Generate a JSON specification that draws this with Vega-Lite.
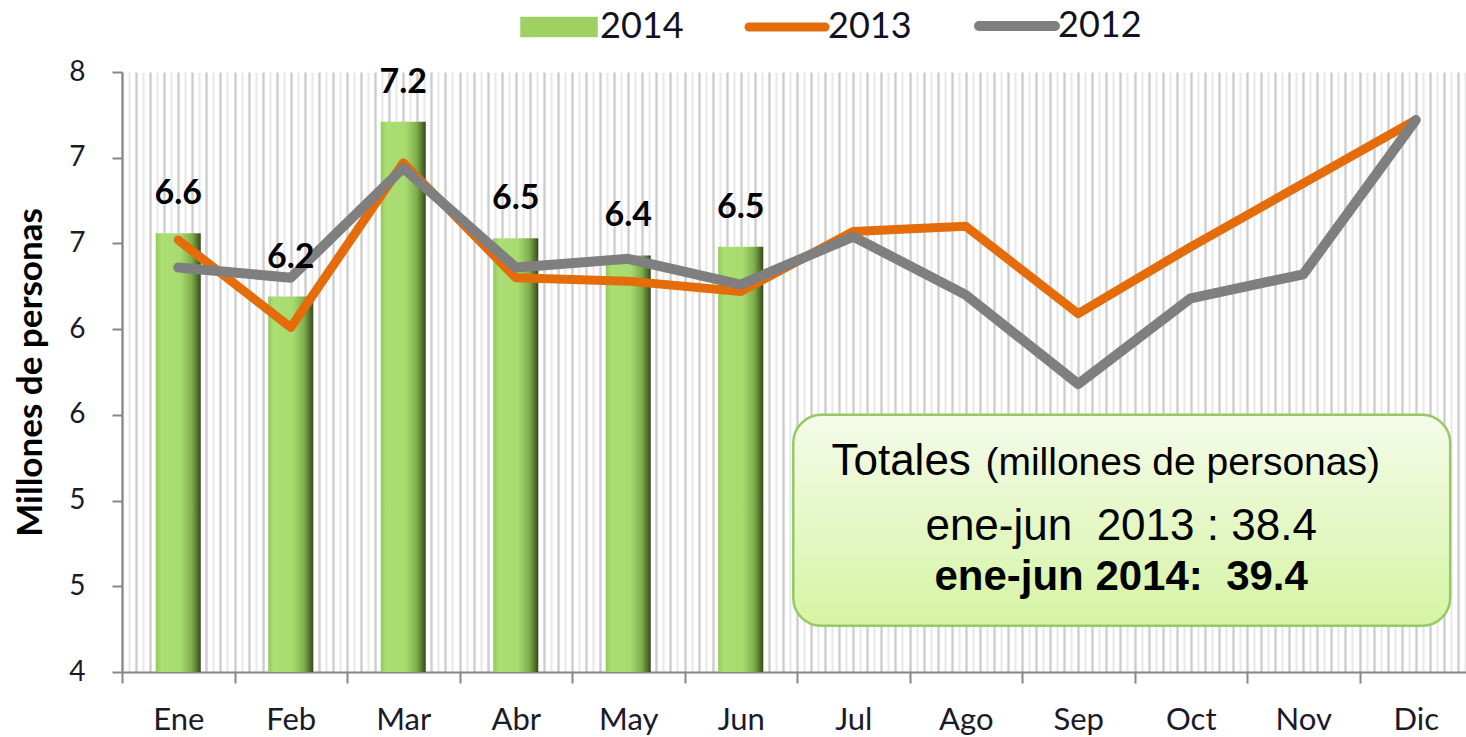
{
  "$schema": "https://vega.github.io/schema/vega-lite/v6.json",
  "width": 1350,
  "height": 600,
  "autosize": "none",
  "padding": {"left": 122, "top": 72, "right": 0, "bottom": 65},
  "background": "white",
  "config": {"view": {"stroke": null}, "font": "Lato"},
  "data": {
    "values": [
      {"mes": "Ene", "serie": "2014", "valor": 6.56},
      {"mes": "Feb", "serie": "2014", "valor": 6.19},
      {"mes": "Mar", "serie": "2014", "valor": 7.21},
      {"mes": "Abr", "serie": "2014", "valor": 6.53},
      {"mes": "May", "serie": "2014", "valor": 6.43},
      {"mes": "Jun", "serie": "2014", "valor": 6.48},
      {"mes": "Ene", "serie": "2013", "valor": 6.52},
      {"mes": "Feb", "serie": "2013", "valor": 6.01},
      {"mes": "Mar", "serie": "2013", "valor": 6.97},
      {"mes": "Abr", "serie": "2013", "valor": 6.3},
      {"mes": "May", "serie": "2013", "valor": 6.28},
      {"mes": "Jun", "serie": "2013", "valor": 6.22},
      {"mes": "Jul", "serie": "2013", "valor": 6.57},
      {"mes": "Ago", "serie": "2013", "valor": 6.6},
      {"mes": "Sep", "serie": "2013", "valor": 6.09},
      {"mes": "Oct", "serie": "2013", "valor": 6.48},
      {"mes": "Nov", "serie": "2013", "valor": 6.85},
      {"mes": "Dic", "serie": "2013", "valor": 7.22},
      {"mes": "Ene", "serie": "2012", "valor": 6.36},
      {"mes": "Feb", "serie": "2012", "valor": 6.3},
      {"mes": "Mar", "serie": "2012", "valor": 6.94},
      {"mes": "Abr", "serie": "2012", "valor": 6.36},
      {"mes": "May", "serie": "2012", "valor": 6.41},
      {"mes": "Jun", "serie": "2012", "valor": 6.26},
      {"mes": "Jul", "serie": "2012", "valor": 6.54},
      {"mes": "Ago", "serie": "2012", "valor": 6.2},
      {"mes": "Sep", "serie": "2012", "valor": 5.68},
      {"mes": "Oct", "serie": "2012", "valor": 6.18},
      {"mes": "Nov", "serie": "2012", "valor": 6.32},
      {"mes": "Dic", "serie": "2012", "valor": 7.22}
    ]
  },
  "resolve": {"scale": {"x": "independent"}, "axis": {"x": "independent"}},
  "layer": [
    {
      "encoding": {
        "x": {
          "field": "mes",
          "type": "nominal",
          "sort": ["Ene","Feb","Mar","Abr","May","Jun","Jul","Ago","Sep","Oct","Nov","Dic"],
          "scale": {"domain": ["Ene","Feb","Mar","Abr","May","Jun","Jul","Ago","Sep","Oct","Nov","Dic"], "paddingInner": 0, "paddingOuter": 0},
          "axis": {
            "title": null,
            "labelAngle": 0,
            "tickBand": "extent",
            "labelFont": "Lato",
            "labelFontSize": 31,
            "labelColor": "#1a1a2a",
            "labelPadding": 22,
            "tickSize": 11,
            "tickColor": "#868686",
            "tickWidth": 2,
            "domainColor": "#868686",
            "domainWidth": 2,
            "grid": false
          }
        },
        "y": {
          "field": "valor",
          "type": "quantitative",
          "scale": {"domain": [4, 7.5], "nice": false, "zero": false, "clamp": true},
          "axis": {
            "values": [4, 4.5, 5, 5.5, 6, 6.5, 7, 7.5],
            "format": ".0f",
            "title": "Millones  de personas",
            "titleFont": "Lato",
            "titleFontSize": 35,
            "titleFontWeight": "bold",
            "titleColor": "#000000",
            "titlePadding": 20,
            "labelFont": "Lato",
            "labelFontSize": 28,
            "labelColor": "#1a1a2a",
            "labelPadding": 27,
            "tickSize": 10,
            "tickColor": "#868686",
            "tickWidth": 2,
            "domainColor": "#868686",
            "domainWidth": 2,
            "grid": false
          }
        }
      },
      "layer": [
        {
          "transform": [{"filter": "datum.serie === '2014'"}],
          "mark": {
            "type": "bar",
            "width": {"band": 0.4},
            "fill": {
              "gradient": "linear",
              "x1": 0, "y1": 0, "x2": 1, "y2": 0,
              "stops": [
                {"offset": 0, "color": "#92c85a"},
                {"offset": 0.12, "color": "#abdf74"},
                {"offset": 0.55, "color": "#a7db70"},
                {"offset": 0.8, "color": "#7fae4a"},
                {"offset": 0.93, "color": "#506f2c"},
                {"offset": 1, "color": "#34481c"}
              ]
            }
          }
        },
        {
          "transform": [{"filter": "datum.serie === '2013'"}],
          "mark": {"type": "line", "strokeWidth": 9, "strokeCap": "round", "strokeJoin": "round"},
          "encoding": {
            "color": {
              "field": "serie",
              "type": "nominal",
              "scale": {"domain": ["2014", "2013", "2012"], "range": ["#9fd160", "#e46c0a", "#7f7f7f"]},
              "legend": {
                "orient": "none",
                "legendX": 400,
                "legendY": -64,
                "direction": "horizontal",
                "title": null,
                "padding": 0,
                "labelFont": "Lato",
                "labelFontSize": 36,
                "labelColor": "#111122",
                "labelOffset": 23,
                "symbolOffset": 19,
                "columnPadding": 47,
                "symbolSize": 5776,
                "symbolType": "stroke",
                "symbolStrokeWidth": 9,
                "encode": {
                  "symbols": {
                    "update": {
                      "shape": {"signal": "datum.value === '2014' ? 'M-1,-0.25H1V0.25H-1Z' : 'stroke'"},
                      "fill": {"signal": "datum.value === '2014' ? '#9fd160' : 'transparent'"},
                      "stroke": {"signal": "datum.value === '2014' ? '#4d6e2a' : (datum.value === '2013' ? '#e46c0a' : '#7f7f7f')"},
                      "strokeWidth": {"signal": "datum.value === '2014' ? 1.5 : (datum.value === '2013' ? 9 : 10)"},
                      "strokeCap": {"value": "round"},
                      "opacity": {"value": 1}
                    }
                  }
                }
              }
            }
          }
        },
        {
          "transform": [{"filter": "datum.serie === '2012'"}],
          "mark": {"type": "line", "strokeWidth": 10, "strokeCap": "round", "strokeJoin": "round"},
          "encoding": {
            "color": {"field": "serie", "type": "nominal"}
          }
        },
        {
          "transform": [{"filter": "datum.serie === '2014'"}],
          "mark": {"type": "text", "font": "Lato", "fontSize": 34, "fontWeight": "bold", "color": "#000000", "baseline": "alphabetic", "dy": -29},
          "encoding": {"text": {"field": "valor", "type": "quantitative", "format": ".1f"}}
        }
      ]
    },
    {
      "data": {"values": [{}]},
      "layer": [
        {
          "mark": {
            "type": "rect",
            "cornerRadius": 28,
            "stroke": "#97c866",
            "strokeWidth": 2.5,
            "fill": {
              "gradient": "linear",
              "x1": 0, "y1": 0, "x2": 0, "y2": 1,
              "stops": [
                {"offset": 0, "color": "#f4fbea"},
                {"offset": 1, "color": "#d6f4a4"}
              ]
            }
          },
          "encoding": {
            "x": {
              "datum": 95.47,
              "type": "quantitative",
              "scale": {"domain": [0, 192], "nice": false, "zero": false},
              "axis": {
                "orient": "top",
                "tickCount": 192,
                "grid": true,
                "labels": false,
                "ticks": false,
                "domain": false,
                "title": null,
                "gridOpacity": 1,
                "gridColor": {"condition": {"test": "datum.value % 2 === 0", "value": "#cfcfcf"}, "value": "#e8e8e8"},
                "gridWidth": {"condition": {"test": "datum.value % 2 === 0", "value": 2.5}, "value": 2}
              }
            },
            "x2": {"datum": 188.9},
            "y": {"datum": 5.5, "type": "quantitative"},
            "y2": {"datum": 4.27}
          }
        },
        {
          "mark": {"type": "text", "text": "Totales", "font": "Liberation Sans", "fontSize": 44, "align": "left", "baseline": "alphabetic", "color": "#000000"},
          "encoding": {
            "x": {"datum": 100.9, "type": "quantitative"},
            "y": {"datum": 5.149, "type": "quantitative"}
          }
        },
        {
          "mark": {"type": "text", "text": "(millones de personas)", "font": "Liberation Sans", "fontSize": 39, "align": "left", "baseline": "alphabetic", "color": "#000000"},
          "encoding": {
            "x": {"datum": 122.8, "type": "quantitative"},
            "y": {"datum": 5.149, "type": "quantitative"}
          }
        },
        {
          "mark": {"type": "text", "text": "ene-jun\u00a0 2013 : 38.4", "font": "Liberation Sans", "fontSize": 44, "align": "center", "baseline": "alphabetic", "color": "#000000"},
          "encoding": {
            "x": {"datum": 142.1, "type": "quantitative"},
            "y": {"datum": 4.77, "type": "quantitative"}
          }
        },
        {
          "mark": {"type": "text", "text": "ene-jun 2014:\u00a0 39.4", "font": "Liberation Sans", "fontSize": 42, "fontWeight": "bold", "align": "center", "baseline": "alphabetic", "color": "#000000"},
          "encoding": {
            "x": {"datum": 142.1, "type": "quantitative"},
            "y": {"datum": 4.478, "type": "quantitative"}
          }
        }
      ]
    }
  ]
}
